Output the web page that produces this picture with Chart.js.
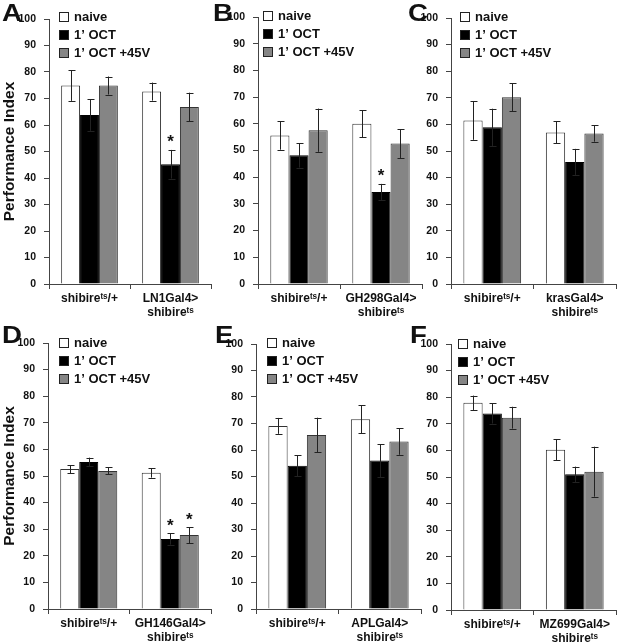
<!DOCTYPE html>
<html>
<head>
<meta charset="utf-8">
<script src="https://cdn.jsdelivr.net/npm/chart.js@4.4.1/dist/chart.umd.min.js"></script>
<style>
  html, body { margin: 0; padding: 0; background: #fff; }
  #fig { position: relative; width: 617px; height: 642px; overflow: hidden; }
  #fig canvas { position: absolute; }
</style>
</head>
<body>
<div id="fig"></div>
<script>
/* data, one entry per panel A-F, each [shibire/+, GalX>shibire] */
const seriesNames = ["naive", "1\u2019 OCT", "1\u2019 OCT +45V"];
const panelLetters = ["A", "B", "C", "D", "E", "F"];
const ctrlLabel = "shibire\u1D57\u02E2/+";
const lineLabels = ["LN1Gal4>", "GH298Gal4>", "krasGal4>", "GH146Gal4>", "APLGal4>", "MZ699Gal4>"];
const lineLabel2 = "shibire\u1D57\u02E2";
const yMin = 0, yMax = 100, yStep = 10;

const naive    = [[74.9, 72.6], [55.6, 60.0], [61.5, 57.0], [52.6, 51.2], [69.1, 71.6], [77.9, 60.2]];
const naiveErr = [[5.8, 3.4],   [5.3, 5.0],   [7.3, 4.1],   [1.5, 1.8],   [3.0, 5.3],   [2.7, 3.9]];
const oct      = [[63.8, 45.2], [48.2, 34.5], [58.9, 45.9], [55.3, 26.3], [54.1, 56.0], [73.9, 51.0]];
const octErr   = [[6.0, 5.4],   [4.6, 3.0],   [7.0, 4.9],   [1.6, 2.1],   [4.0, 6.2],   [3.8, 2.9]];
const oct45    = [[74.9, 66.8], [57.6, 52.6], [70.2, 56.6], [51.9, 27.8], [65.7, 63.2], [72.3, 52.0]];
const oct45Err = [[3.4, 5.4],   [8.1, 5.4],   [5.2, 3.1],   [1.3, 3.0],   [6.5, 5.0],   [4.1, 9.4]];
// significance asterisks: [series index, group index]
const stars = [[[1, 1]], [[1, 1]], [], [[1, 1], [2, 1]], [], []];

/* layout: canvas box and plot area in page pixels */
const boxes = [
  { left: 0,   top: 0,   w: 214, h: 320, plot: [49, 211, 19, 284],  lx: 2,  ly: 21, leg: 10, legY: -2, title: true },
  { left: 200, top: 0,   w: 224, h: 320, plot: [258, 422, 17, 284], lx: 13, ly: 21, leg: 5,  legY: -1 },
  { left: 405, top: 0,   w: 212, h: 320, plot: [451, 616, 18, 284], lx: 3,  ly: 21, leg: 9,  legY: -1 },
  { left: 0,   top: 320, w: 214, h: 322, plot: [48, 211, 343, 609], lx: 2,  ly: 23, leg: 11, legY: 0, title: true },
  { left: 200, top: 320, w: 224, h: 322, plot: [256, 421, 344, 609], lx: 15, ly: 23, leg: 11, legY: -1 },
  { left: 405, top: 320, w: 212, h: 322, plot: [451, 616, 344, 610], lx: 5,  ly: 23, leg: 7,  legY: 0 }
];
const fills = ["#ffffff", "#000000", "#858585"];
const FONT = "'Liberation Sans', Arial, sans-serif";
Chart.defaults.font.family = FONT;

// error bars, legend, panel letter, asterisks
const extras = {
  id: "extras",
  afterDatasetsDraw(chart) {
    const ctx = chart.ctx, y = chart.scales.y;
    ctx.save();
    ctx.strokeStyle = "#222";
    ctx.lineWidth = 1;
    chart.data.datasets.forEach((ds, di) => {
      chart.getDatasetMeta(di).data.forEach((bar, i) => {
        const yt = y.getPixelForValue(ds.data[i] + ds.err[i]);
        const yb = y.getPixelForValue(ds.data[i] - ds.err[i]);
        const x = Math.round(bar.x) + 0.5;
        ctx.beginPath();
        ctx.moveTo(x, yt); ctx.lineTo(x, yb);
        ctx.moveTo(x - 3, Math.round(yt) + 0.5); ctx.lineTo(x + 4, Math.round(yt) + 0.5);
        ctx.moveTo(x - 3, Math.round(yb) + 0.5); ctx.lineTo(x + 4, Math.round(yb) + 0.5);
        ctx.stroke();
      });
    });
    ctx.restore();
  },
  afterDraw(chart, args, opts) {
    const ctx = chart.ctx, area = chart.chartArea, y = chart.scales.y;
    ctx.save();
    // legend
    ctx.font = "bold 13px " + FONT;
    ctx.textBaseline = "middle";
    chart.data.datasets.forEach((ds, i) => {
      const bx = area.left + opts.leg, cy = area.top + opts.legY + i * 18;
      ctx.fillStyle = ds.backgroundColor;
      ctx.fillRect(bx + 0.5, cy - 4.5, 9, 9);
      ctx.strokeStyle = "#222";
      ctx.strokeRect(bx + 0.5, cy - 4.5, 9, 9);
      ctx.fillStyle = "#111";
      ctx.fillText(ds.label, bx + 15, cy + 0.5);
    });
    // asterisks
    ctx.font = "bold 17px " + FONT;
    ctx.textAlign = "center";
    ctx.textBaseline = "alphabetic";
    opts.stars.forEach(([si, gi]) => {
      const ds = chart.data.datasets[si];
      const bar = chart.getDatasetMeta(si).data[gi];
      const top = y.getPixelForValue(ds.data[gi] + ds.err[gi]);
      ctx.fillText("*", bar.x, top - 2.5);
    });
    // panel letter
    ctx.translate(opts.lx, opts.ly);
    ctx.scale(1.2, 1);
    ctx.textAlign = "left";
    ctx.font = "bold 23px " + FONT;
    ctx.fillText(opts.letter, 0, 0);
    ctx.restore();
  }
};

const fig = document.getElementById("fig");

function makePanel(p) {
  const b = boxes[p];
  const cv = document.createElement("canvas");
  cv.width = b.w; cv.height = b.h;
  cv.style.left = b.left + "px"; cv.style.top = b.top + "px";
  fig.appendChild(cv);
  const [pl, pr, pt, pb] = b.plot;
  const values = [naive[p], oct[p], oct45[p]];
  const errs = [naiveErr[p], octErr[p], oct45Err[p]];

  new Chart(cv, {
    type: "bar",
    data: {
      labels: [[ctrlLabel], [lineLabels[p], lineLabel2]],
      datasets: seriesNames.map((name, i) => ({
        label: name,
        data: values[i],
        err: errs[i],
        backgroundColor: fills[i],
        borderColor: i === 1 ? "#000" : "#333",
        borderWidth: 1,
        categoryPercentage: 0.7,
        barPercentage: 1.0
      }))
    },
    options: {
      responsive: false,
      animation: false,
      events: [],
      layout: { autoPadding: false, padding: { left: 0, top: pt - b.top, right: b.left + b.w - pr, bottom: 0 } },
      plugins: {
        legend: { display: false },
        tooltip: { enabled: false },
        extras: { leg: b.leg, legY: b.legY, lx: b.lx, ly: b.ly, letter: panelLetters[p], stars: stars[p] }
      },
      scales: {
        x: {
          offset: true,
          grid: { display: true, offset: true, drawOnChartArea: false, drawTicks: true, tickLength: 5, color: "#444" },
          border: { color: "#444" },
          ticks: { color: "#111", padding: 3, maxRotation: 0, autoSkip: false, font: { size: 12, weight: "bold", lineHeight: 1.15 } },
          afterFit(s) { s.height = b.top + b.h - pb; }
        },
        y: {
          min: yMin, max: yMax,
          grid: { drawOnChartArea: false, drawTicks: true, tickLength: 5, color: "#444" },
          border: { color: "#444" },
          ticks: { stepSize: yStep, color: "#111", padding: 8, font: { size: 10.5, weight: "bold" } },
          title: { display: !!b.title, text: "Performance Index", color: "#111", padding: 0, font: { size: 15.5, weight: "bold" } },
          afterFit(s) { s.width = pl - b.left; }
        }
      }
    },
    plugins: [extras]
  });
}

for (let p = 0; p < 6; p++) makePanel(p);
</script>
</body>
</html>
